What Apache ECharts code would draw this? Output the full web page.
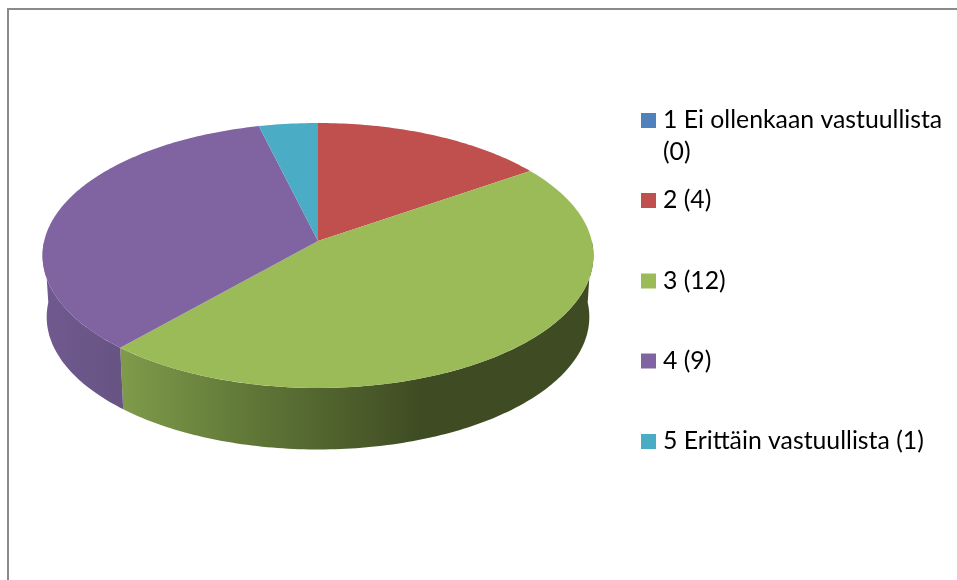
<!DOCTYPE html>
<html>
<head>
<meta charset="utf-8">
<style>html,body{margin:0;padding:0;background:#fff}#c{width:957px;height:580px}</style>
<script src="https://cdn.jsdelivr.net/npm/echarts@6/dist/echarts.min.js"></script>
</head>
<body>
<div id="c"></div>
<script>
const categories = ["1 Ei ollenkaan vastuullista\n(0)", "2 (4)", "3 (12)", "4 (9)", "5 Erittäin vastuullista (1)"];
const values = [0, 4, 12, 9, 1];
const colors = ["#4f81bd", "#c0504d", "#9bbb59", "#8064a2", "#4bacc6"];
const legendCenters = [120.5, 200.5, 281, 361, 441.5];

const total = values.reduce((a, b) => a + b, 0);
const CX = 318, CY = 241, A = 273.8, H = 130.9, K = 0.1094, DEPTH = 61.5, BOTTOM_SCALE = 0.985;

function point(deg, lower) {
  const t = deg * Math.PI / 180, u = Math.sin(t), v = Math.cos(t), d = 1 + K * v;
  return lower
    ? [CX + BOTTOM_SCALE * A * u / d, CY + DEPTH - H * v / d]
    : [CX + A * u / d, CY - H * v / d];
}
function arc(from, to, lower) {
  const pts = [];
  const n = Math.max(1, Math.ceil(to - from));
  for (let i = 0; i <= n; i++) pts.push(point(from + (to - from) * i / n, lower));
  return pts;
}
function sideFill(i) {
  const stops = {
    2: [[0, "#7f9b4a"], [0.45, "#5f7637"], [1, "#3f4c23"]],
    3: [[0, "#70598f"], [1, "#675483"]]
  }[i];
  const range = { 2: [120, 420], 3: [42, 122] }[i];
  if (!stops) return colors[i];
  return {
    type: "linear", global: true, x: range[0], y: 0, x2: range[1], y2: 0,
    colorStops: stops.map(s => ({ offset: s[0], color: s[1] }))
  };
}
function renderSlice(params, api) {
  const i = params.seriesIndex, value = api.value(0);
  if (!value) return { type: "group", children: [] };
  const before = values.slice(0, i).reduce((a, b) => a + b, 0);
  const from = before / total * 360, to = (before + value) / total * 360;
  const children = [];
  const a = Math.max(from, 90), b = Math.min(to, 270);
  if (b > a) {
    children.push({
      type: "polygon",
      shape: { points: arc(a, b, false).concat(arc(a, b, true).reverse()) },
      style: { fill: sideFill(i) }
    });
  }
  children.push({
    type: "polygon",
    shape: { points: [[CX, CY]].concat(arc(from, to, false)) },
    style: { fill: colors[i] }
  });
  return { type: "group", children };
}

const chart = echarts.init(document.getElementById("c"), null, { renderer: "canvas" });
chart.setOption({
  animation: false,
  backgroundColor: "#fff",
  graphic: [{
    type: "polyline",
    shape: { points: [[8, 590], [8, 9], [970, 9]] },
    style: { stroke: "#8a8a8a", lineWidth: 2, fill: null }
  }],
  legend: categories.map((c, i) => {
    const lines = c.split("\n").length;
    const rows = lines > 1 ? 3 : 1;
    return {
      data: [c],
      left: 641,
      top: legendCenters[i] - rows * 16 - 1.5,
      orient: "vertical",
      icon: "rect",
      itemWidth: 15,
      itemHeight: 15,
      padding: 0,
      selectedMode: false,
      formatter: n => (n.indexOf("\n") >= 0 ? "\n" + n : n),
      textStyle: { fontFamily: "Lato", fontSize: 24.8, lineHeight: 32, color: "#000", padding: [3, 0, 0, 2] }
    };
  }),
  series: categories.map((c, i) => ({
    type: "custom",
    name: c,
    coordinateSystem: "none",
    itemStyle: { color: colors[i] },
    renderItem: renderSlice,
    data: [[values[i]]],
    silent: true
  }))
});
</script>
</body>
</html>
